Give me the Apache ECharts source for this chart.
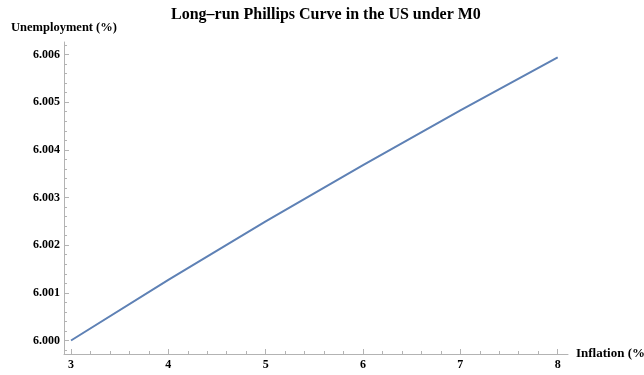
<!DOCTYPE html>
<html>
<head>
<meta charset="utf-8">
<script src="https://cdn.jsdelivr.net/npm/echarts@6/dist/echarts.min.js"></script>
<style>
  html, body { margin: 0; padding: 0; background: #fff; }
  #chart { width: 644px; height: 375px; }
</style>
</head>
<body>
<div id="chart"></div>
<script>
// Long-run Phillips curve: unemployment (%) against inflation (%)
const inflation = [3, 4, 5, 6, 7, 8];
const unemployment = [6.0, 6.00127, 6.0025, 6.00368, 6.00483, 6.00594];

// Tick positions
const xMajorTicks = [3, 4, 5, 6, 7, 8];
const xMinorTicks = [3.2, 3.4, 3.6, 3.8, 4.2, 4.4, 4.6, 4.8, 5.2, 5.4, 5.6, 5.8,
                     6.2, 6.4, 6.6, 6.8, 7.2, 7.4, 7.6, 7.8];
const yMajorTicks = [6.000, 6.001, 6.002, 6.003, 6.004, 6.005, 6.006];
const yMinorTicks = [5.9998, 6.0002, 6.0004, 6.0006, 6.0008, 6.0012, 6.0014, 6.0016, 6.0018,
                     6.0022, 6.0024, 6.0026, 6.0028, 6.0032, 6.0034, 6.0036, 6.0038,
                     6.0042, 6.0044, 6.0046, 6.0048, 6.0052, 6.0054, 6.0056, 6.0058, 6.0062];

const X_MIN = 2.928, X_MAX = 8.106;
const Y_MIN = 5.999717, Y_MAX = 6.006262;

const serif = '"Liberation Serif", "Times New Roman", serif';
const axisGray = '#b3b3b3';

const chart = echarts.init(document.getElementById('chart'), null, { renderer: 'canvas' });

const labelStyle = { fontFamily: serif, fontWeight: 'bold', fontSize: 12, color: '#000' };
const nameStyle = { fontFamily: serif, fontWeight: 'bold', fontSize: 12.5, color: '#000' };

chart.setOption({
  animation: false,
  title: {
    text: 'Long\u2013run Phillips Curve in the US under M0',
    left: 166,
    top: 2,
    textStyle: { fontFamily: serif, fontWeight: 'bold', fontSize: 16, color: '#000' }
  },
  grid: { left: 64, right: 76, top: 42, bottom: 21, containLabel: false, outerBoundsMode: 'none' },
  xAxis: [
    {
      type: 'value', min: X_MIN, max: X_MAX,
      name: 'Inflation (%)', nameLocation: 'end', nameGap: 8,
      nameTextStyle: Object.assign({}, nameStyle, { fontSize: 13, align: 'left', verticalAlign: 'middle' }),
      axisLine: { show: true, lineStyle: { color: axisGray, width: 1 } },
      axisTick: { show: true, inside: true, length: 5, customValues: xMajorTicks, lineStyle: { color: axisGray } },
      axisLabel: Object.assign({ show: true, margin: 5, customValues: xMajorTicks, formatter: v => String(Math.round(v)) }, labelStyle),
      splitLine: { show: false }
    },
    {
      type: 'value', min: X_MIN, max: X_MAX, position: 'bottom', offset: 0,
      axisLine: { show: false },
      axisTick: { show: true, inside: true, length: 3, customValues: xMinorTicks, lineStyle: { color: axisGray } },
      axisLabel: { show: false },
      splitLine: { show: false }
    }
  ],
  yAxis: [
    {
      type: 'value', min: Y_MIN, max: Y_MAX,
      name: 'Unemployment (%)', nameLocation: 'end', nameGap: 8,
      nameTextStyle: Object.assign({}, nameStyle, { align: 'center' }),
      axisLine: { show: true, lineStyle: { color: axisGray, width: 1 } },
      axisTick: { show: true, inside: true, length: 5, customValues: yMajorTicks, lineStyle: { color: axisGray } },
      axisLabel: Object.assign({ show: true, margin: 4, customValues: yMajorTicks, formatter: v => v.toFixed(3) }, labelStyle),
      splitLine: { show: false }
    },
    {
      type: 'value', min: Y_MIN, max: Y_MAX, position: 'left', offset: 0,
      axisLine: { show: false },
      axisTick: { show: true, inside: true, length: 3, customValues: yMinorTicks, lineStyle: { color: axisGray } },
      axisLabel: { show: false },
      splitLine: { show: false }
    }
  ],
  series: [
    {
      type: 'line',
      xAxisIndex: 0, yAxisIndex: 0,
      data: inflation.map((x, i) => [x, unemployment[i]]),
      showSymbol: false,
      smooth: false,
      lineStyle: { color: '#5e81b5', width: 2 }
    }
  ]
});
</script>
</body>
</html>
